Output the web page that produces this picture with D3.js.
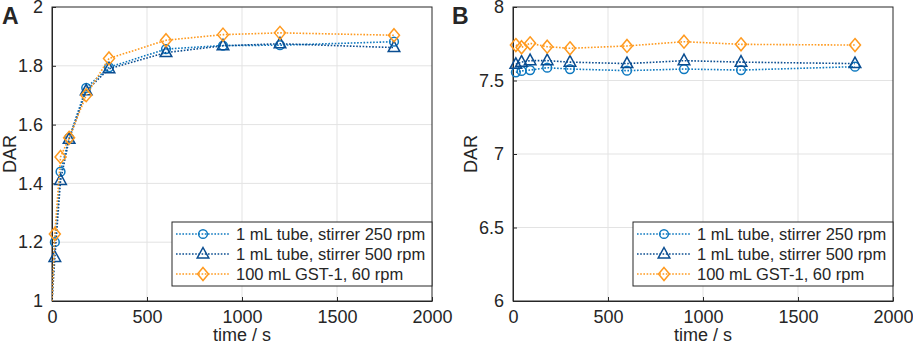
<!DOCTYPE html>
<html>
<head>
<meta charset="utf-8">
<script src="https://cdn.jsdelivr.net/npm/d3@7"></script>
<style>
  body { margin: 0; background: #fff; }
  text { font-family: "Liberation Sans", Arial, sans-serif; fill: #262626; }
</style>
</head>
<body>
<svg id="drawing_region"></svg>
<script>
// time points (s)
const timesA = [0, 15, 45, 90, 180, 300, 600, 900, 1200, 1800];
const timesB = [15, 45, 90, 180, 300, 600, 900, 1200, 1800];

// panel A: DAR over time
const tube250A = [1, 1.20, 1.44, 1.555, 1.725, 1.795, 1.857, 1.869, 1.870, 1.882];
const tube500A = [1, 1.148, 1.41, 1.55, 1.715, 1.79, 1.845, 1.868, 1.875, 1.862];
const gst60A   = [1, 1.228, 1.49, 1.555, 1.70, 1.825, 1.887, 1.906, 1.912, 1.904];

// panel B: DAR over time
const tube250B = [7.556, 7.565, 7.571, 7.587, 7.578, 7.567, 7.578, 7.571, 7.594];
const tube500B = [7.61, 7.625, 7.635, 7.635, 7.625, 7.615, 7.635, 7.625, 7.615];
const gst60B   = [7.741, 7.726, 7.753, 7.73, 7.719, 7.735, 7.764, 7.746, 7.741];

const seriesNames = ["1 mL tube, stirrer 250 rpm", "1 mL tube, stirrer 500 rpm", "100 mL GST-1, 60 rpm"];
const xTicks = [0, 500, 1000, 1500, 2000];
const yTicksA = [1, 1.2, 1.4, 1.6, 1.8, 2];
const yTicksB = [6, 6.5, 7, 7.5, 8];

const colors = ["#0E79C0", "#0A4D91", "#FF9A1F"];
const shapes = ["circle", "triangle", "diamond"];

const svg = d3.select('#drawing_region')
    .attr('width', 913)
    .attr('height', 349);

function markerPath(shape) {
    if (shape === "circle") return d3.symbol(d3.symbolCircle, 60)();
    if (shape === "triangle") return "M0,-6.5L5.8,4L-5.8,4Z";
    return "M0,-6.5L5.5,0L0,6.5L-5.5,0Z";
}

function drawPanel(opts) {
    const left = opts.left, top = 7, width = 380, height = 294;
    const g = svg.append('g').attr('transform', `translate(${left}, ${top})`);

    const xscale = d3.scaleLinear().domain([0, 2000]).range([0, width]);
    const yscale = d3.scaleLinear().domain(opts.ydomain).range([height, 0]);

    // grid
    g.append('g').selectAll('line.gx')
        .data(xTicks.slice(1, -1)).enter().append('line')
        .attr('x1', d => xscale(d)).attr('x2', d => xscale(d))
        .attr('y1', 0).attr('y2', height)
        .attr('stroke', '#e3e3e3').attr('stroke-width', 1);
    g.append('g').selectAll('line.gy')
        .data(opts.yticks.slice(1, -1)).enter().append('line')
        .attr('x1', 0).attr('x2', width)
        .attr('y1', d => yscale(d)).attr('y2', d => yscale(d))
        .attr('stroke', '#e3e3e3').attr('stroke-width', 1);

    // axes
    const xaxis = d3.axisBottom(xscale).tickValues(xTicks).tickSizeInner(-4).tickSizeOuter(0).tickPadding(9)
        .tickFormat(d3.format('d'));
    const yaxis = d3.axisLeft(yscale).tickValues(opts.yticks).tickSizeInner(-4).tickSizeOuter(0).tickPadding(9)
        .tickFormat(d3.format('~g'));
    const xg = g.append('g').attr('transform', `translate(0, ${height})`).call(xaxis);
    const yg = g.append('g').call(yaxis);
    [xg, yg].forEach(a => {
        a.selectAll('path, line').attr('stroke', '#262626');
        a.selectAll('text').attr('font-size', '18px').attr('fill', '#262626')
            .style('font-family', '"Liberation Sans", Arial, sans-serif');
    });
    // box top/right
    g.append('rect').attr('x', 0).attr('y', 0).attr('width', width).attr('height', height)
        .attr('fill', 'none').attr('stroke', '#262626').attr('stroke-width', 1);

    // clip for lines
    const clipId = 'clip' + opts.label;
    g.append('clipPath').attr('id', clipId).append('rect')
        .attr('x', 0).attr('y', 0).attr('width', width).attr('height', height);

    const line = d3.line().x(d => xscale(d.t)).y(d => yscale(d.v));
    opts.series.forEach((vals, i) => {
        const pts = opts.times.map((t, j) => ({t: t, v: vals[j]}));
        g.append('path')
            .attr('d', line(pts))
            .attr('clip-path', `url(#${clipId})`)
            .attr('fill', 'none')
            .attr('stroke', colors[i])
            .attr('stroke-width', 1.6)
            .attr('stroke-dasharray', '1.6,1.6');
        g.append('g').selectAll('path')
            .data(pts.filter(p => p.t > 0)).enter().append('path')
            .attr('transform', d => `translate(${xscale(d.t)}, ${yscale(d.v)})`)
            .attr('d', markerPath(shapes[i]))
            .attr('fill', 'none')
            .attr('stroke', colors[i])
            .attr('stroke-width', 1.5);
    });

    // legend
    const lg = g.append('g').attr('transform', `translate(${width - 260}, ${height - 79})`);
    lg.append('rect').attr('x', 0).attr('y', 0).attr('width', 260).attr('height', 64)
        .attr('fill', '#fff').attr('stroke', '#262626').attr('stroke-width', 1);
    seriesNames.forEach((name, i) => {
        const yy = 12 + i * 20;
        lg.append('line').attr('x1', 4).attr('x2', 58).attr('y1', yy).attr('y2', yy)
            .attr('stroke', colors[i]).attr('stroke-width', 1.6).attr('stroke-dasharray', '1.6,1.6');
        lg.append('path').attr('transform', `translate(31, ${yy})`)
            .attr('d', markerPath(shapes[i]))
            .attr('fill', 'none').attr('stroke', colors[i]).attr('stroke-width', 1.5);
        lg.append('text').attr('x', 64).attr('y', yy + 6)
            .attr('font-size', '16.5px').text(name);
    });

    // axis titles
    svg.append('text')
        .attr('x', left + width / 2).attr('y', 341)
        .attr('text-anchor', 'middle').attr('font-size', '18px')
        .text('time / s');
    svg.append('text')
        .attr('transform', `translate(${left - 36}, ${top + height / 2}) rotate(-90)`)
        .attr('text-anchor', 'middle').attr('font-size', '18px')
        .text('DAR');
    svg.append('text')
        .attr('x', opts.labelX).attr('y', 24)
        .attr('font-size', '23px').attr('font-weight', 'bold')
        .attr('fill', '#000')
        .text(opts.label);
}

drawPanel({label: 'A', labelX: 2, left: 52, ydomain: [1, 2], yticks: yTicksA,
           times: timesA, series: [tube250A, tube500A, gst60A]});
drawPanel({label: 'B', labelX: 452, left: 513, ydomain: [6, 8], yticks: yTicksB,
           times: timesB, series: [tube250B, tube500B, gst60B]});
</script>
</body>
</html>
